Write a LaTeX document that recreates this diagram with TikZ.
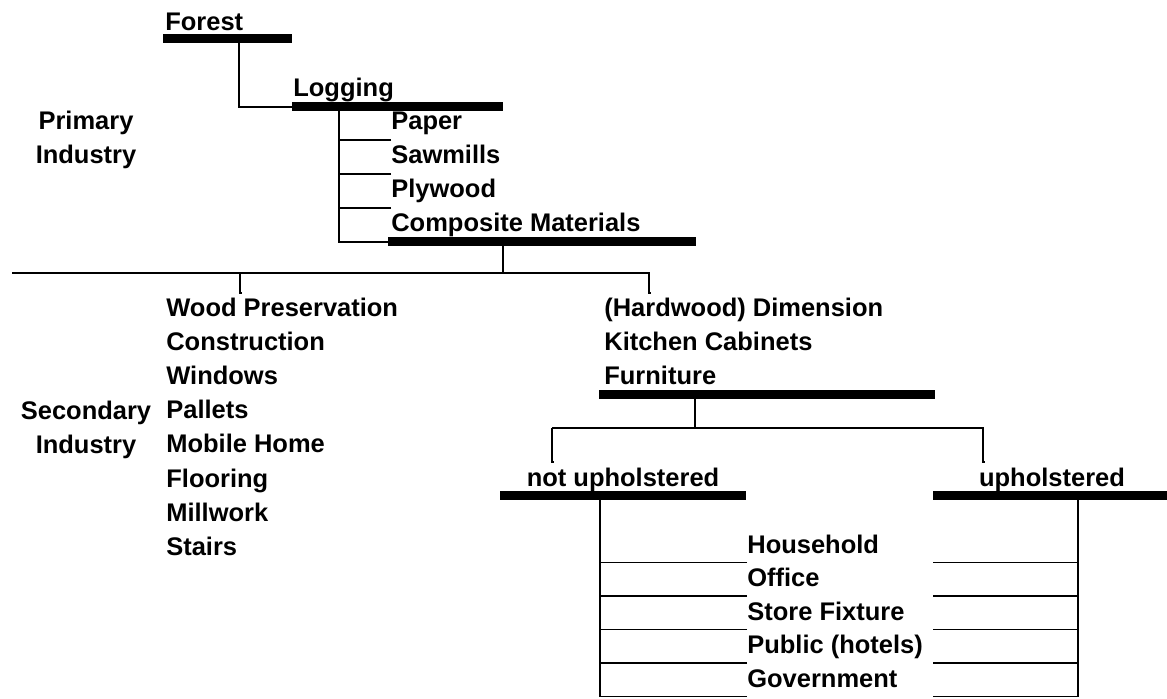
\documentclass[tikz,border=0pt]{standalone}
\usepackage{fontspec}
\setmainfont{Liberation Sans}
\usepackage{tikz}
\usetikzlibrary{positioning, calc}
\newcommand{\chartfont}{\fontsize{14.5}{19.35}\selectfont\bfseries}

\begin{document}
\begin{tikzpicture}[
  x=0.02cm, y=-0.02cm,
  every node/.style={font=\chartfont},
  lbl/.style={anchor=base west, inner sep=0pt},
  grp/.style={align=center, anchor=base, inner sep=0pt},
  bar/.style={fill=black, inner sep=0pt, anchor=north west,
    minimum height=0.18cm, minimum width=#1*0.02cm},
  link/.style={line width=0.8pt}
]
\useasboundingbox (0,0) rectangle (1167,698);

  % Primary industry (upper part)
\node[lbl] (forest) at (165,30) {Forest};
\node[bar=129] (forestbar) at (163,33.5) {};
\node[lbl] (logging) at (293,96) {Logging};
\node[bar=211] (logbar) at (292,102) {};
\node[lbl] (paper) at (391,129) {Paper};
\node[lbl] (sawmills) at (391,163) {Sawmills};
\node[lbl] (plywood) at (391,197) {Plywood};
\node[lbl] (composite) at (391,231) {Composite Materials};
\node[bar=308] (compbar) at (388,237) {};
\node[grp] (primary) at (86,163) {Primary\\Industry};

  % Secondary industry
\foreach \t [count=\i] in {Wood Preservation, Construction, Windows, Pallets, Mobile Home, Flooring, Millwork, Stairs}
  \node[lbl] (sec\i) at (166,{316+34.2*(\i-1)}) {\t};
\node[grp] (secondary) at (86,453) {Secondary\\Industry};
\node[lbl] (dimension) at (604,316) {(Hardwood) Dimension};
\node[lbl] (cabinets) at (604,350.2) {Kitchen Cabinets};
\node[lbl] (furniture) at (604,384.4) {Furniture};
\node[bar=336] (furnbar) at (599,390) {};

  % Furniture branches
\node[anchor=base, inner sep=0pt] (notup) at (623,486) {not upholstered};
\node[bar=246] (notupbar) at (500,491) {};
\node[anchor=base, inner sep=0pt] (up) at (1052,486) {upholstered};
\node[bar=234] (upbar) at (933,491) {};
\foreach \t/\n [count=\i] in {Household/household, Office/office, Store Fixture/storefix, Public (hotels)/public, Government/govt}
  \node[lbl] (\n) at (747,{553+33.5*(\i-1)}) {\t};

  % Junctions
\coordinate (forestdrop) at (239,43);
\coordinate (logdrop) at (339,111);
\coordinate (compdrop) at (503,246);
\coordinate (splitl) at (12,273);
\coordinate (splitr) at (649,273);
\coordinate (woodtick) at (240,273);
\coordinate (furndrop) at (695,399);
\coordinate (fsplitl) at (552,428);
\coordinate (fsplitr) at (983,428);
\coordinate (ltrunk) at (600,500);
\coordinate (rtrunk) at (1078,500);

  % Links
  \draw[link] (forestdrop) |- (logbar.west);
  \draw[link] (logdrop) |- (compbar.west);
  \foreach \n in {paper,sawmills,plywood}
    \draw[link] ([yshift=-0.22cm]\n.base west) -| (logdrop);
  \draw[link] (compdrop) -- (compdrop |- splitl);
  \draw[link] (splitl) -- (splitr) -- ++(0,20) -- ++(2,0);
  \draw[link] (woodtick) -- ++(0,20) -- ++(2,0);
  \draw[link] (furndrop) -- (furndrop |- fsplitl);
  \draw[link] (fsplitl) -- (fsplitr) -- ++(0,34) -- ++(2,0);
  \draw[link] (fsplitl) -- ++(0,34) -- ++(2,0);
  \foreach \n in {household,office,storefix,public,govt} {
    \path ([yshift=-0.19cm]\n.base west) coordinate (tk);
    \draw[link] (tk) -| (ltrunk);
    \draw[link] (tk -| upbar.west) -| (rtrunk);
  }

\end{tikzpicture}
\end{document}
